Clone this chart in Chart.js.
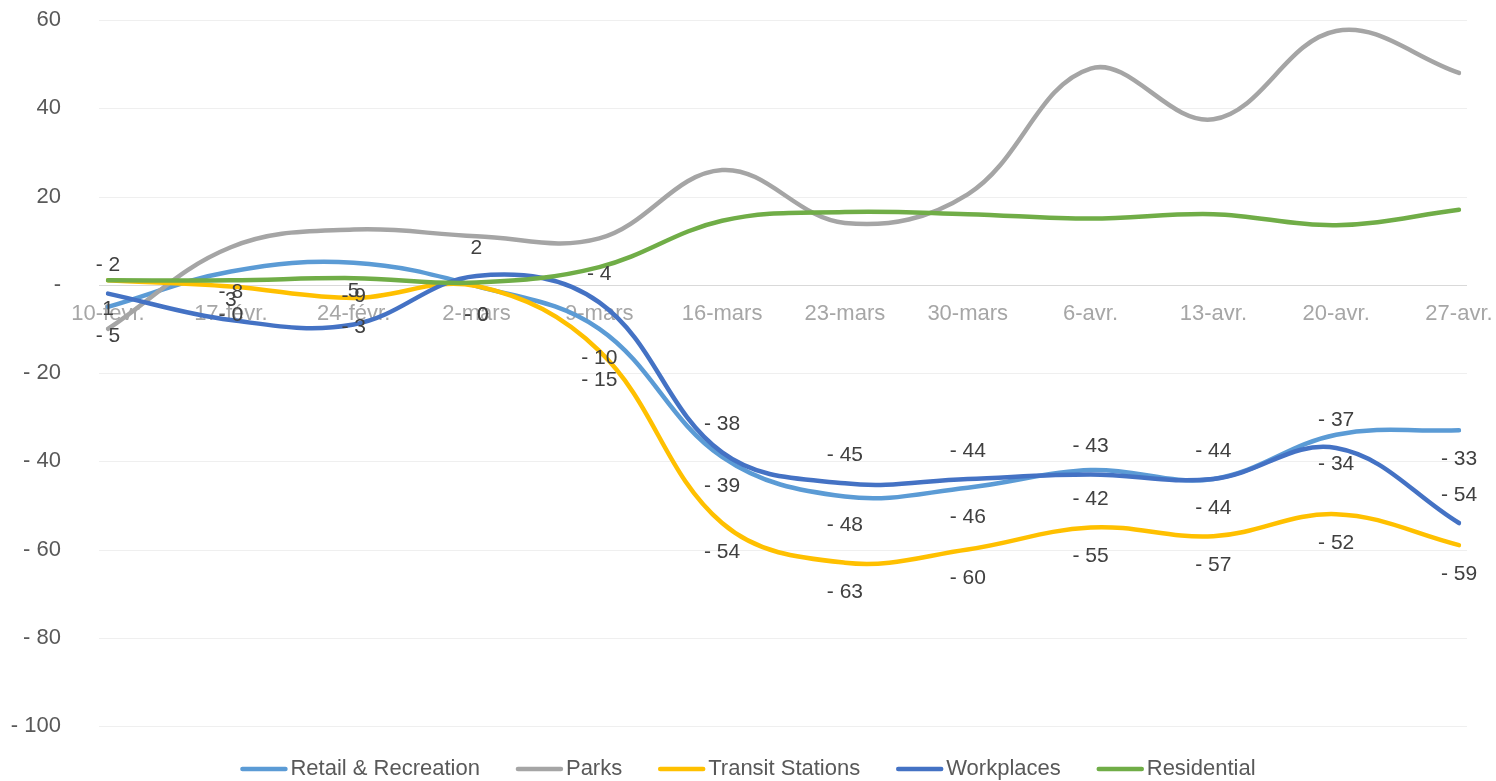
<!DOCTYPE html>
<html>
<head>
<meta charset="utf-8">
<title>Mobilité</title>
<script src="https://cdn.jsdelivr.net/npm/chart.js@4.4.1/dist/chart.umd.min.js"></script>
<style>
  html, body { margin: 0; padding: 0; background: #ffffff; }
  #wrap { width: 1496px; height: 781px; }
</style>
</head>
<body>
<div id="wrap"><canvas id="chart" width="1496" height="781"></canvas></div>
<script>
// Weekly categories (x axis)
const categories = ["10-févr.", "17-févr.", "24-févr.", "2-mars", "9-mars", "16-mars",
                    "23-mars", "30-mars", "6-avr.", "13-avr.", "20-avr.", "27-avr."];

// Series values (% change vs. baseline)
const retailRecreation = [-5, 3, 5, -0.3, -10, -39, -48, -46, -42, -44, -34, -33];
const parks            = [-10, 8.5, 12.5, 11, 10.5, 26, 14, 20.5, 49, 37.5, 57.5, 48];
const transitStations  = [1, -0.4, -3, -0.3, -15, -54, -63, -60, -55, -57, -52, -59];
const workplaces       = [-2, -8, -9, 2, -4, -38, -45, -44, -43, -44, -37, -54];
const residential      = [1, 1, 1.5, 0.5, 4, 14.5, 16.5, 16, 15, 16, 13.5, 17];

// Value axis ticks
const yTickValues = [60, 40, 20, 0, -20, -40, -60, -80, -100];

const FONT = "'Liberation Sans', Arial, Helvetica, sans-serif";
const LINE_WIDTH = 4.5;

// "# ##0;- # ##0;-" style number format
function fmt(v) {
  if (v === 0) return "-";
  const r = Math.round(Math.abs(v));
  return v < 0 ? "- " + r : String(r);
}

// Horizontal grid lines, slightly wider than the plotted range
const gridPlugin = {
  id: "gridLines",
  beforeDatasetsDraw(chart) {
    const { ctx, chartArea, scales } = chart;
    const y = scales.y;
    ctx.save();
    ctx.lineWidth = 1;
    y.ticks.forEach(t => {
      const py = Math.round(y.getPixelForValue(t.value)) + 0.5;
      ctx.strokeStyle = t.value === 0 ? "#d9d9d9" : "#efefef";
      ctx.beginPath();
      ctx.moveTo(chartArea.left - 9, py);
      ctx.lineTo(chartArea.right + 8, py);
      ctx.stroke();
    });
    ctx.restore();
  }
};

// Value labels for the series that carry them
const valueLabelPlugin = {
  id: "valueLabels",
  afterDatasetsDraw(chart) {
    const { ctx } = chart;
    ctx.save();
    ctx.font = "21px " + FONT;
    ctx.fillStyle = "#404040";
    ctx.textAlign = "center";
    ctx.textBaseline = "middle";
    chart.data.datasets.forEach((ds, i) => {
      if (ds.labelOffset === undefined) return;
      const meta = chart.getDatasetMeta(i);
      meta.data.forEach((pt, j) => {
        ctx.fillText(fmt(ds.data[j]), pt.x, pt.y + ds.labelOffset);
      });
    });
    ctx.restore();
  }
};

// Bottom legend: line swatch followed by the series name
const lineLegendPlugin = {
  id: "lineLegend",
  afterDraw(chart) {
    const { ctx, width } = chart;
    const swatch = 47, gap = 3, spacing = 36, y = 769;
    ctx.save();
    ctx.font = "22px " + FONT;
    ctx.textBaseline = "middle";
    ctx.textAlign = "left";
    const items = chart.data.datasets.map(ds => ({
      ds, w: ctx.measureText(ds.label).width
    }));
    const total = items.reduce((s, it) => s + swatch + gap + it.w, 0) + spacing * (items.length - 1);
    let x = (width - total) / 2;
    items.forEach(it => {
      ctx.strokeStyle = it.ds.borderColor;
      ctx.lineWidth = LINE_WIDTH;
      ctx.lineCap = "round";
      ctx.beginPath();
      ctx.moveTo(x + 2, y);
      ctx.lineTo(x + swatch - 2, y);
      ctx.stroke();
      ctx.fillStyle = "#595959";
      ctx.fillText(it.ds.label, x + swatch + gap, y);
      x += swatch + gap + it.w + spacing;
    });
    ctx.restore();
  }
};

function series(label, data, color, order, labelOffset) {
  const ds = {
    label, data,
    borderColor: color,
    backgroundColor: color,
    borderWidth: LINE_WIDTH,
    borderCapStyle: "round",
    borderJoinStyle: "round",
    pointRadius: 0,
    pointHoverRadius: 0,
    tension: 0.38,
    fill: false,
    order
  };
  if (labelOffset !== undefined) ds.labelOffset = labelOffset;
  return ds;
}

new Chart(document.getElementById("chart"), {
  type: "line",
  data: {
    labels: categories,
    datasets: [
      series("Retail & Recreation", retailRecreation, "#5B9BD5", 5, 29),
      series("Parks", parks, "#A5A5A5", 4),
      series("Transit Stations", transitStations, "#FFC000", 3, 29),
      series("Workplaces", workplaces, "#4472C4", 2, -28),
      series("Residential", residential, "#70AD47", 1)
    ]
  },
  options: {
    responsive: false,
    devicePixelRatio: 1,
    animation: false,
    layout: { padding: { top: 20, right: 37, bottom: 55, left: 0 } },
    scales: {
      x: {
        type: "category",
        position: { y: 0 },
        grid: { display: false, drawTicks: false },
        border: { display: false },
        afterFit(scale) {
          scale.height = 0;
          scale.paddingLeft = 0;
          scale.paddingRight = 0;
        },
        ticks: {
          color: "#a6a6a6",
          font: { family: FONT, size: 22 },
          maxRotation: 0,
          autoSkip: false,
          padding: 16
        }
      },
      y: {
        min: -100,
        max: 60,
        grid: { display: false, drawTicks: false },
        border: { display: false },
        afterBuildTicks(scale) {
          scale.ticks = yTickValues.map(v => ({ value: v }));
        },
        afterFit(scale) {
          scale.width = 108;
          scale.paddingTop = 0;
          scale.paddingBottom = 0;
        },
        ticks: {
          color: "#595959",
          font: { family: FONT, size: 22 },
          padding: 47,
          callback: v => fmt(v)
        }
      }
    },
    plugins: {
      legend: { display: false },
      tooltip: { enabled: false }
    }
  },
  plugins: [gridPlugin, valueLabelPlugin, lineLegendPlugin]
});
</script>
</body>
</html>
